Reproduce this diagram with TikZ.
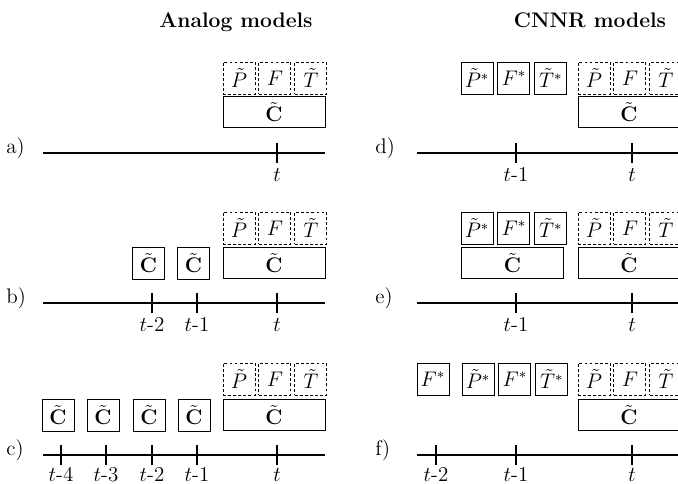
\documentclass[tikz,border=0pt]{standalone}
\usepackage{amsmath}
\usetikzlibrary{positioning}
\tikzset{
  dbox/.style={draw, dash pattern=on 1.6pt off 1.3pt, minimum width=0.64cm, minimum height=0.64cm, inner sep=0pt, font=\large, line width=0.5pt},
  sbox/.style={draw, minimum width=0.64cm, minimum height=0.64cm, inner sep=0pt, font=\large, line width=0.5pt},
  wbox/.style={draw, minimum width=2.04cm, minimum height=0.62cm, inner sep=0pt, font=\large, line width=0.5pt},
  axis/.style={line width=0.7pt},
  tickmark/.style={line width=0.6pt},
  ticklabel/.style={font=\large, anchor=base, inner sep=0pt},
  rowlabel/.style={font=\large, anchor=mid west, inner sep=0pt},
  heading/.style={font=\large\bfseries, anchor=base, inner sep=0pt},
}

\begin{document}
\begin{tikzpicture}[x=0.02cm, y=-0.02cm]

  \useasboundingbox (0,0) rectangle (678,483);
  \clip (0,0) rectangle (678,483);

  % --- Headings ---
  \node[heading] (analog) at (236,28) {Analog models};
  \node[heading] (cnnr) at (590,28) {CNNR models};

  % --- Row a ---
  \node[dbox] (a-p) at (239,78) {$\tilde{P}$};
  \node[dbox, right=0.06cm of a-p] (a-f) {$F$};
  \node[dbox, right=0.06cm of a-f] (a-t) {$\tilde{T}$};
  \node[wbox] (a-c) at (274,112) {$\tilde{\mathbf{C}}$};
  \node[rowlabel] (a-lab) at (6,150) {a)};
  \coordinate (a0) at (43,153);
  \coordinate (a1) at (325,153);
  \draw[axis] (a0) -- (a1);
  \draw[tickmark] (277,143) -- (277,163);
  \node[ticklabel] (a-t0) at (277,181) {$t$};

  % --- Row b ---
  \node[dbox] (b-p) at (239,228) {$\tilde{P}$};
  \node[dbox, right=0.06cm of b-p] (b-f) {$F$};
  \node[dbox, right=0.06cm of b-f] (b-t) {$\tilde{T}$};
  \node[wbox] (b-c) at (274,263) {$\tilde{\mathbf{C}}$};
  \node[sbox] (b-c2) at (148.5,263) {$\tilde{\mathbf{C}}$};
  \node[sbox] (b-c1) at (193.5,263) {$\tilde{\mathbf{C}}$};
  \node[rowlabel] (b-lab) at (6,300) {b)};
  \coordinate (b0) at (43,303);
  \coordinate (b1) at (325,303);
  \draw[axis] (b0) -- (b1);
  \foreach \x/\lab [count=\i] in {152/$t$-2, 197/$t$-1, 277/$t$} {
    \draw[tickmark] (\x,293) -- (\x,313);
    \node[ticklabel] (b-t\i) at (\x,331) {\lab};
  }

  % --- Row c ---
  \node[dbox] (c-p) at (239,379) {$\tilde{P}$};
  \node[dbox, right=0.06cm of c-p] (c-f) {$F$};
  \node[dbox, right=0.06cm of c-f] (c-t) {$\tilde{T}$};
  \node[wbox] (c-c) at (274,415) {$\tilde{\mathbf{C}}$};
  \foreach \x [count=\i] in {58,103,149,194}
    \node[sbox] (c-c\i) at (\x,415) {$\tilde{\mathbf{C}}$};
  \node[rowlabel] (c-lab) at (6,452) {c)};
  \coordinate (c0) at (43,455);
  \coordinate (c1) at (325,455);
  \draw[axis] (c0) -- (c1);
  \foreach \x/\lab [count=\i] in {61/$t$-4, 106/$t$-3, 152/$t$-2, 197/$t$-1, 277/$t$} {
    \draw[tickmark] (\x,445) -- (\x,465);
    \node[ticklabel] (c-t\i) at (\x,481) {\lab};
  }

  % --- Row d ---
  \node[sbox] (d-ps) at (477,78) {$\tilde{P}^*$};
  \node[sbox, right=0.08cm of d-ps] (d-fs) {$F^*$};
  \node[sbox, right=0.08cm of d-fs] (d-ts) {$\tilde{T}^*$};
  \node[dbox] (d-p) at (594,78) {$\tilde{P}$};
  \node[dbox, right=0.06cm of d-p] (d-f) {$F$};
  \node[dbox, right=0.06cm of d-f] (d-t) {$\tilde{T}$};
  \node[wbox] (d-c) at (629,112) {$\tilde{\mathbf{C}}$};
  \node[rowlabel] (d-lab) at (375,150) {d)};
  \coordinate (d0) at (417,153);
  \coordinate (d1) at (690,153);
  \draw[axis] (d0) -- (d1);
  \foreach \x/\lab [count=\i] in {516/$t$-1, 632/$t$} {
    \draw[tickmark] (\x,143) -- (\x,163);
    \node[ticklabel] (d-t\i) at (\x,181) {\lab};
  }

  % --- Row e ---
  \node[sbox] (e-ps) at (477,228) {$\tilde{P}^*$};
  \node[sbox, right=0.08cm of e-ps] (e-fs) {$F^*$};
  \node[sbox, right=0.08cm of e-fs] (e-ts) {$\tilde{T}^*$};
  \node[wbox] (e-cs) at (512.5,263) {$\tilde{\mathbf{C}}$};
  \node[dbox] (e-p) at (594,228) {$\tilde{P}$};
  \node[dbox, right=0.06cm of e-p] (e-f) {$F$};
  \node[dbox, right=0.06cm of e-f] (e-t) {$\tilde{T}$};
  \node[wbox] (e-c) at (629,263) {$\tilde{\mathbf{C}}$};
  \node[rowlabel] (e-lab) at (375,300) {e)};
  \coordinate (e0) at (417,303);
  \coordinate (e1) at (690,303);
  \draw[axis] (e0) -- (e1);
  \foreach \x/\lab [count=\i] in {516/$t$-1, 632/$t$} {
    \draw[tickmark] (\x,293) -- (\x,313);
    \node[ticklabel] (e-t\i) at (\x,331) {\lab};
  }

  % --- Row f ---
  \node[sbox] (f-fss) at (433,379) {$F^*$};
  \node[sbox] (f-ps) at (478,379) {$\tilde{P}^*$};
  \node[sbox, right=0.08cm of f-ps] (f-fs) {$F^*$};
  \node[sbox, right=0.08cm of f-fs] (f-ts) {$\tilde{T}^*$};
  \node[dbox] (f-p) at (594,379) {$\tilde{P}$};
  \node[dbox, right=0.06cm of f-p] (f-f) {$F$};
  \node[dbox, right=0.06cm of f-f] (f-t) {$\tilde{T}$};
  \node[wbox] (f-c) at (629,415) {$\tilde{\mathbf{C}}$};
  \node[rowlabel] (f-lab) at (375,452) {f)};
  \coordinate (f0) at (417,455);
  \coordinate (f1) at (690,455);
  \draw[axis] (f0) -- (f1);
  \foreach \x/\lab [count=\i] in {436/$t$-2, 516/$t$-1, 632/$t$} {
    \draw[tickmark] (\x,445) -- (\x,465);
    \node[ticklabel] (f-t\i) at (\x,481) {\lab};
  }

\end{tikzpicture}
\end{document}
